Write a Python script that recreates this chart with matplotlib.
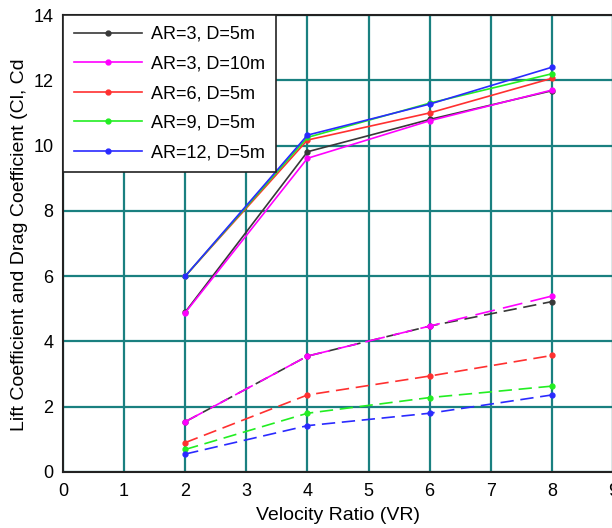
import matplotlib.pyplot as plt
import numpy as np

plt.rcParams['font.family'] = ['Liberation Sans', 'DejaVu Sans']

# velocity ratio
vr = [2, 4, 6, 8]

labels = ['AR=3, D=5m', 'AR=3, D=10m', 'AR=6, D=5m', 'AR=9, D=5m', 'AR=12, D=5m']
colors = ['#383838', '#ff00ff', '#ff3030', '#22ee22', '#2a2aff']
# dash pattern for the drag curves (magenta uses long dashes)
dash_styles = [(8, 4), (12, 5), (8, 4), (8, 4), (8, 4)]

# lift coefficient (solid)
cl_ar3_d5 = [4.9, 9.81, 10.8, 11.68]
cl_ar3_d10 = [4.88, 9.61, 10.76, 11.7]
cl_ar6_d5 = [6.0, 10.17, 11.0, 12.06]
cl_ar9_d5 = [6.0, 10.25, 11.3, 12.2]
cl_ar12_d5 = [6.0, 10.32, 11.27, 12.4]

# drag coefficient (dashed)
cd_ar3_d5 = [1.54, 3.55, 4.47, 5.22]
cd_ar3_d10 = [1.54, 3.55, 4.47, 5.39]
cd_ar6_d5 = [0.9, 2.36, 2.94, 3.57]
cd_ar9_d5 = [0.69, 1.8, 2.28, 2.63]
cd_ar12_d5 = [0.55, 1.42, 1.8, 2.36]

cl_all = [cl_ar3_d5, cl_ar3_d10, cl_ar6_d5, cl_ar9_d5, cl_ar12_d5]
cd_all = [cd_ar3_d5, cd_ar3_d10, cd_ar6_d5, cd_ar9_d5, cd_ar12_d5]

fig = plt.figure(figsize=(6.12, 5.28), dpi=100)
# right edge of the axes sits on the canvas edge, like the cropped original
ax = fig.add_axes([63/612, 1 - 472/528, 550/612, 457/528])

for i in range(len(labels)):
    ax.plot(vr, cl_all[i], color=colors[i], lw=1.2, marker='o', ms=3.5,
            label=labels[i], zorder=3)
for i in range(len(labels)):
    ax.plot(vr, cd_all[i], color=colors[i], lw=1.2, marker='o', ms=3.5,
            dashes=dash_styles[i], zorder=3)

ax.set_xlim(0, 9)
ax.set_ylim(0, 14)
ax.set_xticks(np.arange(0, 10, 1))
ax.set_yticks(np.arange(0, 15, 2))
ax.grid(True, color='#1a8080', lw=1.6)
ax.set_axisbelow(True)
ax.tick_params(length=0, labelsize=13)
ax.tick_params(axis='x', pad=8)
ax.tick_params(axis='y', pad=7)
for s in ax.spines.values():
    s.set_linewidth(1.5)
    s.set_color('#222222')

ax.set_xlabel('Velocity Ratio (VR)', fontsize=14, labelpad=5)
fig.text(20/612, 1 - 431/528, 'Lift Coefficient and Drag Coefficient (Cl, Cd',
         rotation=90, ha='center', va='bottom', fontsize=14)

leg = ax.legend(loc='upper left', bbox_to_anchor=(0, 1), fontsize=13,
                handlelength=3.8, handletextpad=0.5, labelspacing=0.7,
                borderaxespad=0, fancybox=False, framealpha=1, borderpad=0.6)
leg.get_frame().set_edgecolor('#222222')
leg.get_frame().set_linewidth(1.2)

plt.savefig('out.png', dpi=100)
